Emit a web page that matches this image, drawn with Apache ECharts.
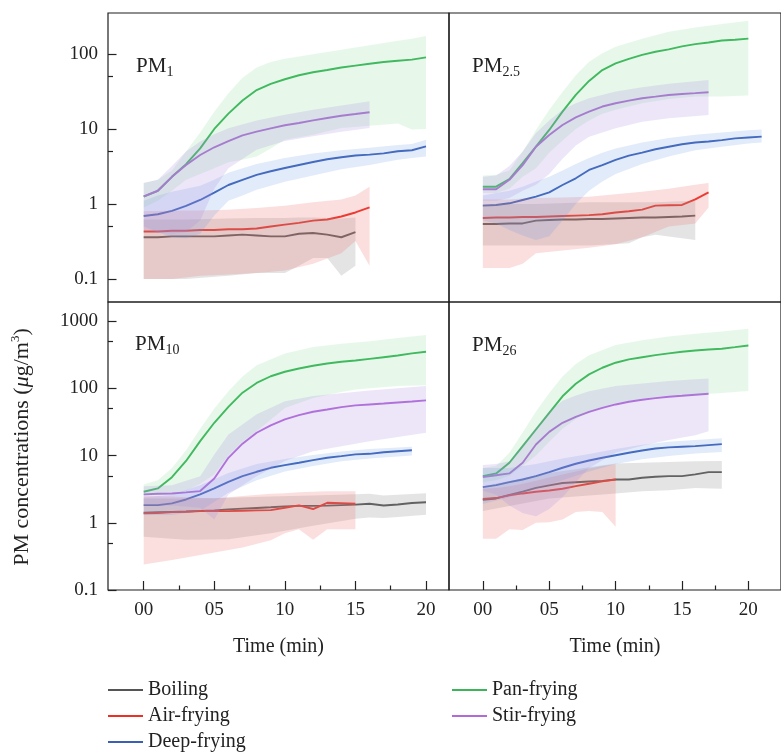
<!DOCTYPE html>
<html>
<head>
<meta charset="utf-8">
<script src="https://cdn.jsdelivr.net/npm/echarts@6/dist/echarts.min.js"></script>
<style>
  html, body { margin: 0; padding: 0; background: #ffffff; }
  #chart { width: 781px; height: 754px; }
</style>
</head>
<body>
<div id="chart"></div>
<script>
// ---------- data: mean concentration per minute (µg/m3), t = 0,1,2,... ----------
const methods = ['Boiling', 'Air-frying', 'Deep-frying', 'Pan-frying', 'Stir-frying'];
const xTickValues = [0, 5, 10, 15, 20];
const xMinorValues = [2.5, 7.5, 12.5, 17.5];
const yTicksTop = [0.1, 1, 10, 100];
const yMinorTop = [0.5, 5, 50];
const yTicksBottom = [0.1, 1, 10, 100, 1000];
const yMinorBottom = [0.5, 5, 50, 500];

// PM1
const boiling_pm1 = [0.36,0.36,0.37,0.37,0.37,0.37,0.38,0.39,0.38,0.37,0.37,0.40,0.41,0.39,0.36,0.42];
const air_pm1 = [0.43,0.43,0.44,0.44,0.45,0.45,0.46,0.46,0.47,0.50,0.53,0.56,0.60,0.62,0.68,0.77,0.90];
const deep_pm1 = [0.69,0.73,0.81,0.94,1.13,1.42,1.79,2.09,2.44,2.73,3.02,3.31,3.63,3.94,4.19,4.42,4.55,4.73,5.04,5.2,5.87];
const pan_pm1 = [1.25,1.5,2.3,3.4,5.5,10,16,24,33,40,46,52,57,61,66,70,74,78,81,84,90];
const stir_pm1 = [1.26,1.5,2.3,3.3,4.5,5.7,6.9,8.2,9.2,10.2,11.2,12.0,13.0,14.0,15.0,15.8,16.7];
// ranges: [t, low, high]
const boilingBand_pm1 = [[0,0.10,0.62],[3,0.10,0.62],[6,0.11,0.64],[8,0.12,0.65],[10,0.12,0.65],[11,0.15,0.66],[12,0.19,0.66],[13,0.19,0.65],[14,0.11,0.64],[15,0.15,0.66]];
const airBand_pm1 = [[0,0.10,0.80],[2,0.10,0.81],[4,0.11,0.82],[6,0.115,0.84],[8,0.12,0.88],[10,0.13,0.95],[12,0.16,1.05],[14,0.22,1.15],[15,0.32,1.3],[16,0.15,1.7]];
const deepBand_pm1 = [[0,0.5,1.1],[1,0.42,1.3],[2,0.36,1.45],[3,0.35,1.6],[4,0.4,1.75],[5,0.7,2.1],[6,1.1,2.6],[7,1.3,3.0],[8,1.55,3.4],[10,1.98,4.1],[12,2.4,4.7],[14,2.9,5.2],[16,3.3,5.6],[18,3.9,6.1],[19,4.1,6.3],[20,4.3,7.2]];
const panBand_pm1 = [[0,0.9,1.9],[1,1.1,2.1],[2,1.5,2.8],[3,2.1,5.0],[4,2.5,9],[5,3.0,17],[6,3.6,30],[7,3.9,48],[8,4.3,66],[9,5.5,78],[10,7.2,86],[12,8.4,99],[14,10.3,114],[16,11,131],[18,11.8,150],[19,9.8,160],[20,10,173]];
const stirBand_pm1 = [[0,0.45,1.9],[1,0.42,2.1],[2,0.4,3.2],[3,0.42,5.0],[4,0.6,6.8],[5,1.6,8.5],[6,3.0,10.2],[8,5.3,13],[10,6.9,15.5],[12,8,18],[14,9.2,20.5],[16,10.3,23.4]];

// PM2.5
const boiling_pm25 = [0.54,0.54,0.55,0.55,0.6,0.61,0.62,0.62,0.63,0.63,0.64,0.65,0.66,0.66,0.67,0.68,0.70];
const air_pm25 = [0.65,0.66,0.66,0.67,0.67,0.68,0.69,0.70,0.71,0.73,0.77,0.80,0.84,0.95,0.96,0.97,1.15,1.43];
const deep_pm25 = [0.95,0.97,1.02,1.13,1.25,1.43,1.79,2.2,2.84,3.3,3.86,4.4,4.84,5.36,5.8,6.25,6.6,6.8,7.1,7.5,7.7,7.9];
const pan_pm25 = [1.7,1.7,2.15,3.5,5.8,9.7,17,28.4,43.7,61,75,86,97,107,115,126,135,142,151,155,160];
const stir_pm25 = [1.57,1.57,2.1,3.3,5.8,8.3,11.3,14.3,17,19.9,22,23.9,25.7,27,28.4,29.3,30,30.9];
const boilingBand_pm25 = [[0,0.28,1.0],[4,0.28,1.0],[8,0.28,1.05],[11,0.3,1.05],[12,0.36,1.05],[13,0.39,1.05],[16,0.33,1.1]];
const airBand_pm25 = [[0,0.14,1.15],[2,0.14,1.15],[3,0.16,1.18],[4,0.22,1.2],[6,0.24,1.22],[8,0.26,1.25],[10,0.29,1.35],[12,0.36,1.46],[14,0.5,1.6],[16,0.55,1.8],[17,0.9,1.9]];
const deepBand_pm25 = [[0,0.6,1.3],[1,0.55,1.4],[2,0.45,1.5],[3,0.38,1.7],[4,0.33,2.0],[5,0.37,2.3],[6,0.6,2.8],[7,1.0,3.4],[8,1.5,4.1],[9,2.0,4.8],[10,2.5,5.5],[12,3.4,6.6],[14,4.3,7.6],[16,5.2,8.4],[18,5.8,9.0],[20,6.4,9.6],[21,6.6,9.8]];
const panBand_pm25 = [[0,1.4,2.4],[1,1.4,2.45],[2,1.6,2.8],[3,2.3,5.0],[4,3.0,9.7],[5,4.8,18],[6,7,31],[7,10,52],[8,13,79],[9,16,102],[10,18,125],[12,22,160],[14,25,197],[16,27,226],[18,27,250],[20,28,278]];
const stirBand_pm25 = [[0,1.1,2.3],[1,1.1,2.4],[2,1.2,3.2],[3,1.5,5.0],[4,1.8,8.8],[5,2.5,13],[6,4,18],[7,6,22],[8,7.9,25.7],[10,10.2,31.5],[12,12.5,35.9],[14,13.9,40],[17,15.4,45]];

// PM10
const boiling_pm10 = [1.41,1.43,1.45,1.47,1.5,1.53,1.58,1.62,1.66,1.7,1.75,1.78,1.78,1.8,1.83,1.86,1.92,1.81,1.87,1.97,2.02];
const air_pm10 = [1.38,1.4,1.44,1.46,1.49,1.49,1.49,1.51,1.53,1.54,1.67,1.81,1.6,1.98,1.96,1.92];
const deep_pm10 = [1.83,1.83,1.94,2.22,2.64,3.24,4.07,4.94,5.73,6.57,7.2,7.8,8.55,9.25,9.8,10.4,10.6,11.2,11.6,12.0];
const pan_pm10 = [2.89,3.24,4.77,8.3,16.4,30.7,53,86,120,151,176,197,216,234,248,259,274,290,307,330,350];
const stir_pm10 = [2.64,2.7,2.73,2.83,2.96,4.56,9.25,15,21.8,28,34.4,39.9,44.8,48.4,52.5,55.6,57.5,59.4,61.6,63.7,66];
const boilingBand_pm10 = [[0,0.62,2.3],[3,0.56,2.3],[6,0.57,2.35],[9,0.7,2.45],[12,0.9,2.55],[15,1.15,2.65],[16,1.2,2.7],[17,1.18,2.55],[18,1.22,2.6],[20,1.32,2.75]];
const airBand_pm10 = [[0,0.24,2.5],[2,0.28,2.45],[5,0.36,2.3],[7,0.43,2.5],[9,0.55,2.7],[10,0.7,2.75],[11,0.8,2.85],[12,0.56,2.9],[13,0.8,2.95],[15,0.8,2.95]];
const deepBand_pm10 = [[0,1.3,2.4],[2,1.3,2.6],[4,1.5,3.6],[6,2.8,5.5],[8,4.3,7.5],[10,5.8,8.9],[12,7.0,10.2],[14,8.2,11.5],[16,9.0,12.5],[18,9.7,13.2],[19,10.0,13.5]];
const panBand_pm10 = [[0,2.5,3.7],[1,2.6,4.3],[2,2.7,6.5],[3,3.0,12],[4,3.8,25],[5,5.2,50],[6,10,90],[7,16,150],[8,23,220],[10,51,330],[12,72,410],[14,88,460],[15,96,480],[16,100,500],[18,108,560],[20,111,620]];
const stirBand_pm10 = [[0,1.8,3.5],[2,1.8,3.6],[4,1.67,4.9],[5,1.12,10.4],[6,2.64,20.5],[8,4.9,41],[10,8.3,64],[12,11.6,77],[16,16.3,93],[20,21.8,108]];

// PM26
const boiling_pm26 = [2.2,2.3,2.6,2.9,3.3,3.6,3.9,4.0,4.1,4.2,4.4,4.4,4.67,4.83,4.94,4.94,5.24,5.67,5.67];
const air_pm26 = [2.27,2.33,2.55,2.73,2.89,3.02,3.2,3.5,3.8,4.12,4.4];
const deep_pm26 = [3.39,3.63,4.03,4.4,4.94,5.67,6.58,7.54,8.44,9.25,10.1,10.98,11.9,12.7,13.2,13.5,13.8,14.3,14.8];
const pan_pm26 = [4.94,5.42,7.8,13.8,24.4,43,76,117,161,202,240,269,290,311,330,349,365,378,387,409,433];
const stir_pm26 = [4.77,5.1,5.42,7.8,14.6,22.5,30.7,37.7,44.7,51,57.5,63,67.5,71.4,74.8,77.3,80,82.8];
const boilingBand_pm26 = [[0,1.5,3.5],[5,2.3,5.5],[10,2.73,7.6],[12,2.95,7.8],[14,3.05,8.0],[16,3.3,8.2],[18,3.2,8.3]];
const airBand_pm26 = [[0,0.58,3.2],[1,0.58,3.3],[2,0.8,3.5],[3,0.78,3.8],[4,1.0,4.2],[5,1.02,4.7],[6,1.12,5.2],[7,1.44,5.8],[8,1.49,6.4],[9,1.44,7.0],[10,0.87,7.4]];
const deepBand_pm26 = [[0,1.9,6.5],[2,2.4,6.5],[4,3.2,7.5],[6,4.3,9],[8,5.8,10.5],[10,7.5,12.5],[12,8.8,14.5],[14,9.8,16],[16,10.7,17],[18,11.3,18]];
const panBand_pm26 = [[0,4.0,6.5],[1,4.3,7],[2,5,11],[3,7,22],[4,10,45],[5,16,85],[6,25,150],[7,35,230],[8,45,310],[10,60,440],[12,70,520],[14,78,590],[16,80,650],[18,85,700],[20,91,770]];
const stirBand_pm26 = [[0,3.0,7.2],[1,2.6,7.5],[2,1.8,8.2],[3,1.4,14.6],[4,1.25,26],[5,1.6,45],[6,2.4,65],[7,4,78],[8,6.5,90],[10,11,108],[12,14,118],[14,17,128],[16,20,136],[17,23,140]];

// ---------- styling ----------
const FONT = '"Liberation Serif", "Times New Roman", serif';
const TEXT = '#222222';
const lineColors = ['#555555', '#ee2f24', '#3a5fb5', '#3cb55a', '#b36ad9'];
const bandColors = ['#8f8f8f', '#ef6b6b', '#6f9ae8', '#5fcf7a', '#a78be0'];
const bandOpacity = [0.24, 0.22, 0.2, 0.15, 0.22];

const panels = [
  { name: 'PM', sub: '1',   lines: [boiling_pm1, air_pm1, deep_pm1, pan_pm1, stir_pm1],
    bands: [boilingBand_pm1, airBand_pm1, deepBand_pm1, panBand_pm1, stirBand_pm1] },
  { name: 'PM', sub: '2.5', lines: [boiling_pm25, air_pm25, deep_pm25, pan_pm25, stir_pm25],
    bands: [boilingBand_pm25, airBand_pm25, deepBand_pm25, panBand_pm25, stirBand_pm25] },
  { name: 'PM', sub: '10',  lines: [boiling_pm10, air_pm10, deep_pm10, pan_pm10, stir_pm10],
    bands: [boilingBand_pm10, airBand_pm10, deepBand_pm10, panBand_pm10, stirBand_pm10] },
  { name: 'PM', sub: '26',  lines: [boiling_pm26, air_pm26, deep_pm26, pan_pm26, stir_pm26],
    bands: [boilingBand_pm26, airBand_pm26, deepBand_pm26, panBand_pm26, stirBand_pm26] }
];

// panel boxes (px) and axis extents
const PX_PER_MIN = 14.115;
const grids = [
  { left: 108, top: 13,  width: 341, height: 289, xmin: -2.53 },
  { left: 449, top: 13,  width: 353, height: 289, xmin: -2.55 },
  { left: 108, top: 302, width: 341, height: 288, xmin: -2.53 },
  { left: 449, top: 302, width: 353, height: 288, xmin: -2.55 }
];
const yRangeTop = [0.0493, 351.6];
const yRangeBottom = [0.1, 1920];

const pad2 = v => (v < 10 ? '0' : '') + v;

const xAxes = [];
const yAxes = [];
grids.forEach((g, i) => {
  const bottomRow = i >= 2;
  const leftCol = i % 2 === 0;
  const xmax = g.xmin + g.width / PX_PER_MIN;
  xAxes.push({
    type: 'value', gridIndex: i, min: g.xmin, max: xmax, position: 'bottom',
    axisLine: { show: false, onZero: false }, splitLine: { show: false },
    axisTick: { show: bottomRow, inside: true, length: 9, customValues: xTickValues,
                lineStyle: { color: TEXT, width: 1.2 } },
    axisLabel: { show: bottomRow, customValues: xTickValues, formatter: pad2, margin: 11,
                 fontFamily: FONT, fontSize: 19, color: TEXT },
    name: bottomRow ? 'Time (min)' : '', nameLocation: 'middle', nameGap: 47,
    nameTextStyle: { fontFamily: FONT, fontSize: 20, color: TEXT }
  });
  const yr = bottomRow ? yRangeBottom : yRangeTop;
  yAxes.push({
    type: 'log', logBase: 10, gridIndex: i, min: yr[0], max: yr[1], position: 'left',
    axisLine: { show: false, onZero: false }, splitLine: { show: false },
    axisTick: { show: leftCol, inside: true, length: 8.5,
                customValues: bottomRow ? yTicksBottom : yTicksTop,
                lineStyle: { color: TEXT, width: 1.2 } },
    axisLabel: { show: leftCol, customValues: bottomRow ? yTicksBottom : yTicksTop,
                 formatter: v => String(v), margin: 10,
                 fontFamily: FONT, fontSize: 19, color: TEXT }
  });
});
// minor ticks on the bottom time axes
[2, 3].forEach(i => {
  const g = grids[i];
  xAxes.push({
    type: 'value', gridIndex: i, min: g.xmin, max: g.xmin + g.width / PX_PER_MIN, position: 'bottom',
    axisLine: { show: false, onZero: false }, splitLine: { show: false }, axisLabel: { show: false },
    axisTick: { show: true, inside: true, length: 4.5, customValues: xMinorValues,
                lineStyle: { color: TEXT, width: 1.2 } }
  });
});
// minor ticks on the left concentration axes
[0, 2].forEach(i => {
  const bottomRow = i >= 2;
  const yr = bottomRow ? yRangeBottom : yRangeTop;
  yAxes.push({
    type: 'log', logBase: 10, gridIndex: i, min: yr[0], max: yr[1], position: 'left',
    axisLine: { show: false, onZero: false }, splitLine: { show: false }, axisLabel: { show: false },
    axisTick: { show: true, inside: true, length: 5,
                customValues: bottomRow ? yMinorBottom : yMinorTop,
                lineStyle: { color: TEXT, width: 1.2 } }
  });
});

// shaded range drawn as one polygon through the axis scales
function bandSeries(band, p, m) {
  return {
    type: 'custom', name: methods[m] + ' range', xAxisIndex: p, yAxisIndex: p,
    z: 3, silent: true, data: band, encode: { x: 0, y: [1, 2] },
    renderItem: function (params, api) {
      if (params.dataIndex !== 0) return null;
      const upper = band.map(r => api.coord([r[0], r[2]]));
      const lower = band.map(r => api.coord([r[0], r[1]])).reverse();
      return {
        type: 'polygon',
        shape: { points: upper.concat(lower) },
        style: { fill: bandColors[m], opacity: bandOpacity[m] }
      };
    }
  };
}

const series = [];
panels.forEach((panel, p) => {
  panel.lines.forEach((vals, m) => {
    series.push({
      type: 'line', name: methods[m], xAxisIndex: p, yAxisIndex: p,
      data: vals.map((v, t) => [t, v]),
      showSymbol: false, symbol: 'none', smooth: false, z: 2,
      itemStyle: { color: lineColors[m] },
      lineStyle: { color: lineColors[m], width: 1.9 },
      emphasis: { disabled: true }
    });
  });
  panel.bands.forEach((band, m) => series.push(bandSeries(band, p, m)));
});

// panel captions with subscripts, and the rotated unit title
const labelPos = [[136, 66], [472, 66], [135, 344], [472, 345]];
const graphics = [];
panels.forEach((panel, p) => {
  const [x, y] = labelPos[p];
  graphics.push({ type: 'text', x: x, y: y, silent: true,
    style: { text: panel.name, fontFamily: FONT, fontSize: 21, fill: TEXT, align: 'left', verticalAlign: 'middle' } });
  graphics.push({ type: 'text', x: x + 30.5, y: y + 6, silent: true,
    style: { text: panel.sub, fontFamily: FONT, fontSize: 14, fill: TEXT, align: 'left', verticalAlign: 'middle' } });
});
graphics.push({
  type: 'text', x: 22, y: 447, rotation: Math.PI / 2, silent: true,
  style: {
    text: '{a|PM concentrations (}{i|μ}{a|g/m}{s|3}{a|)}',
    align: 'center', verticalAlign: 'middle',
    rich: {
      a: { fontFamily: FONT, fontSize: 22, fill: TEXT, lineHeight: 26 },
      i: { fontFamily: FONT, fontSize: 22, fontStyle: 'italic', fill: TEXT, lineHeight: 26 },
      s: { fontFamily: FONT, fontSize: 13, fill: TEXT, lineHeight: 13, verticalAlign: 'top' }
    }
  }
});

const legendBase = {
  orient: 'vertical', top: 680, padding: 0, itemWidth: 35, itemHeight: 2, itemGap: 6, icon: 'rect',
  selectedMode: false,
  textStyle: { fontFamily: FONT, fontSize: 20, color: TEXT }
};

const chart = echarts.init(document.getElementById('chart'), null, { renderer: 'canvas' });
chart.setOption({
  animation: false,
  backgroundColor: '#ffffff',
  grid: grids.map(g => ({ left: g.left, top: g.top, width: g.width, height: g.height,
                          show: true, borderColor: '#1e1e1e', borderWidth: 1.2, backgroundColor: 'transparent' })),
  xAxis: xAxes,
  yAxis: yAxes,
  legend: [
    Object.assign({}, legendBase, { left: 108, data: methods.slice(0, 3) }),
    Object.assign({}, legendBase, { left: 452, data: methods.slice(3) })
  ],
  graphic: graphics,
  series: series
});
</script>
</body>
</html>
